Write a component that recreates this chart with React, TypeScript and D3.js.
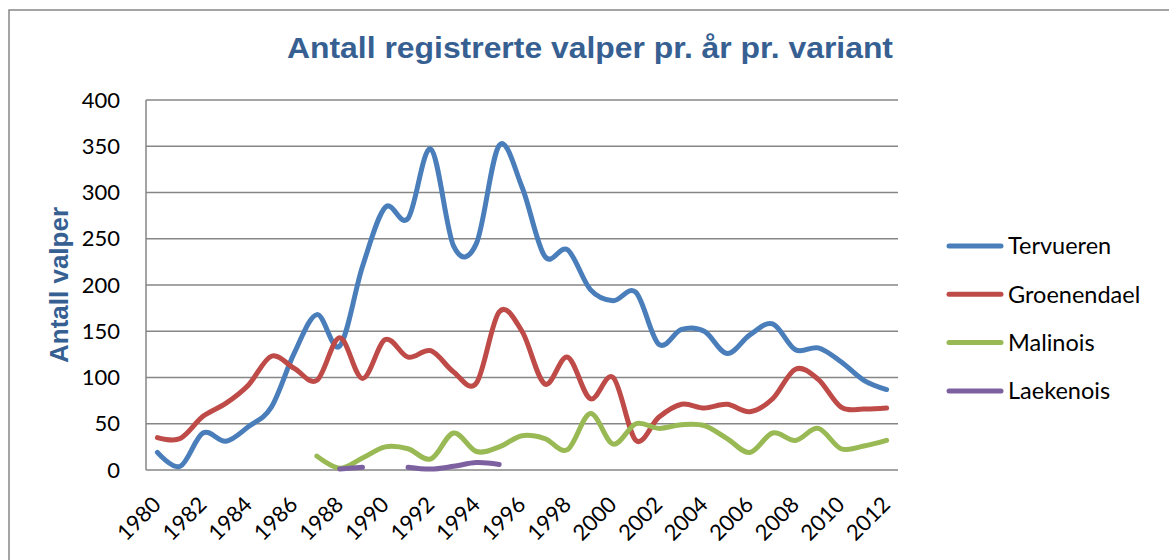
import * as d3 from "d3";

const years = d3.range(1980, 2013);
const xTickYears = d3.range(1980, 2013, 2);
const yTicks = [0, 50, 100, 150, 200, 250, 300, 350, 400];

const tervueren = [19, 4, 40, 31, 47, 68, 126, 168, 134, 220, 284, 272, 347, 242, 245, 351, 306, 231, 238, 195, 183, 192, 136, 152, 150, 126, 146, 158, 130, 132, 117, 97, 87];
const groenendael = [35, 34, 58, 72, 92, 123, 110, 97, 143, 99, 141, 122, 129, 106, 94, 171, 150, 93, 122, 77, 100, 32, 57, 71, 67, 71, 63, 77, 109, 98, 68, 66, 67];
const malinois = [null, null, null, null, null, null, null, 15, 2, 13, 25, 23, 12, 40, 20, 25, 37, 34, 22, 61, 28, 50, 45, 49, 48, 34, 19, 40, 32, 45, 23, 26, 32];
const laekenois = [null, null, null, null, null, null, null, null, 1, 3, null, 3, 1, 4, 8, 6, null, null, null, null, null, null, null, null, null, null, null, null, null, null, null, null, null];

const seriesNames = ["Tervueren", "Groenendael", "Malinois", "Laekenois"];
const seriesValues = [tervueren, groenendael, malinois, laekenois];
const seriesColors = ["#4A7EBB", "#BE4B48", "#98B954", "#7D60A0"];

const width = 1169;
const height = 560;
const plot = { left: 146, right: 898, top: 100, bottom: 470 };

export default function App() {
    const x = d3.scalePoint<number>().domain(years).range([plot.left, plot.right]).padding(0.5);
    const y = d3.scaleLinear([0, 400], [plot.bottom, plot.top]);
    const line = d3.line<number | null>()
        .defined((d) => d != null)
        .x((d, i) => x(years[i]) as number)
        .y((d) => y(d as number))
        .curve(d3.curveCardinal.tension(0));

    const tickFont = "'Lato', 'Liberation Sans', sans-serif";

    return (
        <svg width={width} height={height} style={{ position: "absolute", left: 0, top: 0, background: "white" }}>
            <rect x={9} y={10} width={width + 20} height={height + 20} fill="white" stroke="#868686" strokeWidth={1.5} />
            <text x={590} y={58} textAnchor="middle" fontFamily="'Liberation Sans', Arial, sans-serif" fontWeight="bold" fontSize={29} fill="#376092" textLength={606} lengthAdjust="spacingAndGlyphs">
                Antall registrerte valper pr. år pr. variant
            </text>

            {yTicks.map((t) => (
                <g key={t}>
                    <line x1={plot.left} x2={plot.right} y1={y(t)} y2={y(t)} stroke="#868686" strokeWidth={1.5} />
                    <text x={120} y={y(t)} dy="0.35em" textAnchor="end" fontFamily={tickFont} fontSize={22} fill="#000">{t}</text>
                </g>
            ))}
            <line x1={plot.left} x2={plot.left} y1={plot.top} y2={plot.bottom} stroke="#868686" strokeWidth={1.5} />

            {xTickYears.map((yr) => (
                <text key={yr} transform={`translate(${(x(yr) as number) + 5},506) rotate(-45)`} textAnchor="end" fontFamily={tickFont} fontSize={22} fill="#000">{yr}</text>
            ))}

            <text transform={`translate(68,285) rotate(-90)`} textAnchor="middle" fontFamily="'Liberation Sans', Arial, sans-serif" fontWeight="bold" fontSize={26} fill="#376092">
                Antall valper
            </text>

            {seriesValues.map((vals, k) => (
                <path key={seriesNames[k]} d={line(vals) ?? undefined} fill="none" stroke={seriesColors[k]} strokeWidth={5} strokeLinecap="round" strokeLinejoin="round" />
            ))}

            {seriesNames.map((name, k) => (
                <g key={name} transform={`translate(0,${246 + k * 48.3})`}>
                    <line x1={949} x2={1001} y1={0} y2={0} stroke={seriesColors[k]} strokeWidth={5} strokeLinecap="round" />
                    <text x={1008} y={0} dy="0.35em" fontFamily={tickFont} fontSize={23.5} fill="#000">{name}</text>
                </g>
            ))}
        </svg>
    );
}
